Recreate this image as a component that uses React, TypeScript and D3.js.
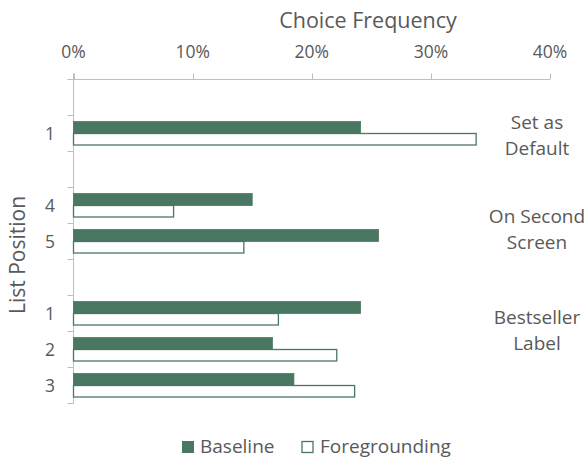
import React from "react";
import * as d3 from "d3";

// Rows of the category axis, top to bottom; empty strings are spacer rows between groups.
const rowLabels = ["", "1", "", "4", "5", "", "1", "2", "3"];
// Choice frequency (%) per row; null for spacer rows.
const baselineValues: (number | null)[] = [null, 24.1, null, 15.0, 25.6, null, 24.1, 16.7, 18.5];
const foregroundingValues: (number | null)[] = [null, 33.8, null, 8.4, 14.3, null, 17.2, 22.1, 23.6];
// Treatment groups shown on the right, with the row where each label block is anchored.
const groupLines = [["Set as", "Default"], ["On Second", "Screen"], ["Bestseller", "Label"]];
const groupAnchorRows = [1, 3, 6];
const xTicks = [0, 10, 20, 30, 40];
const seriesNames = ["Baseline", "Foregrounding"];

const W = 587;
const H = 459;
const GREEN = "#4a7762";
const TEXT = "#595959";
const AXIS = "#bfbfbf";
const FONT = "'Open Sans', 'Noto Sans', sans-serif";

export default function App() {
  const x = d3.scaleLinear().domain([0, 40]).range([73.5, 550]);
  const y = d3
    .scaleBand<number>()
    .domain(rowLabels.map((_, i) => i))
    .range([79.5, 403.5])
    .paddingInner(0)
    .paddingOuter(0);
  const bw = y.bandwidth();
  const barH = 12;
  const pad = (bw - 2 * barH) / 2;
  const x0 = x(0);
  const top = y.range()[0];
  const bottom = y.range()[1];
  const boundaries = d3.range(rowLabels.length + 1).map((i) => top + i * bw);
  const labelOffsets = [13, 35, 28];

  return (
    <svg
      width={W}
      height={H}
      style={{ position: "absolute", left: 0, top: 0, background: "#fff" }}
      fontFamily={FONT}
    >
      {/* axis title */}
      <text x={368} y={27.5} textAnchor="middle" fontSize={21.5} fill={TEXT}>
        Choice Frequency
      </text>
      <text
        transform={`translate(25,255) rotate(-90)`}
        textAnchor="middle"
        fontSize={21}
        fill={TEXT}
      >
        List Position
      </text>

      {/* top value axis */}
      <line x1={x0 - 6} x2={x(40)} y1={top} y2={top} stroke={AXIS} strokeWidth={1} />
      {xTicks.map((t) => (
        <g key={t}>
          <line x1={Math.round(x(t)) + 0.5} x2={Math.round(x(t)) + 0.5} y1={top - 6} y2={top} stroke={AXIS} />
          <text x={x(t)} y={58} textAnchor="middle" fontSize={17.5} fill={TEXT}>
            {`${t}%`}
          </text>
        </g>
      ))}

      {/* left category axis */}
      <line x1={x0} x2={x0} y1={top - 6} y2={bottom} stroke={AXIS} />
      {boundaries.map((b, i) => (
        <line key={i} x1={x0 - 6} x2={x0} y1={b} y2={b} stroke={AXIS} />
      ))}
      {rowLabels.map((lab, i) =>
        lab ? (
          <text key={i} x={50} y={(y(i) as number) + bw / 2 + 6.5} textAnchor="middle" fontSize={17.5} fill={TEXT}>
            {lab}
          </text>
        ) : null
      )}

      {/* bars */}
      {baselineValues.map((v, i) =>
        v == null ? null : (
          <rect
            key={`b${i}`}
            x={x0}
            y={(y(i) as number) + pad}
            width={x(v) - x0}
            height={barH}
            fill={GREEN}
            stroke={GREEN}
            strokeWidth={0.8}
          />
        )
      )}
      {foregroundingValues.map((v, i) =>
        v == null ? null : (
          <rect
            key={`f${i}`}
            x={x0}
            y={(y(i) as number) + pad + barH}
            width={x(v) - x0}
            height={barH - 0.5}
            fill="#fff"
            stroke={GREEN}
            strokeWidth={1.3}
          />
        )
      )}

      {/* group labels */}
      {groupLines.map((lines, g) => (
        <text key={g} x={537} textAnchor="middle" fontSize={19} fill={TEXT}>
          {lines.map((ln, j) => (
            <tspan key={j} x={537} y={(y(groupAnchorRows[g]) as number) + labelOffsets[g] + j * 26.5}>
              {ln}
            </tspan>
          ))}
        </text>
      ))}

      {/* legend */}
      <rect x={182.5} y={441.5} width={11} height={11} fill={GREEN} stroke={GREEN} />
      <text x={200} y={453} fontSize={19} fill={TEXT}>
        {seriesNames[0]}
      </text>
      <rect x={302} y={441.5} width={11} height={11} fill="#fff" stroke={GREEN} strokeWidth={1.3} />
      <text x={320} y={453} fontSize={19} fill={TEXT}>
        {seriesNames[1]}
      </text>
    </svg>
  );
}
